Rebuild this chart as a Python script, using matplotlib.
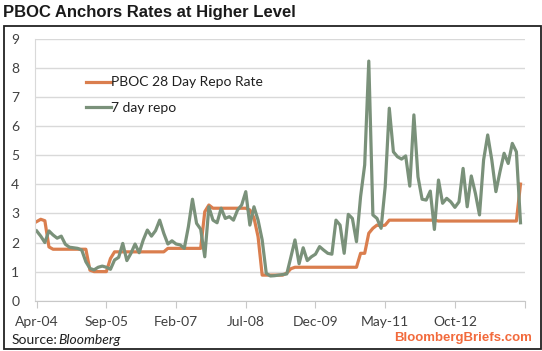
import matplotlib
matplotlib.use("Agg")
import matplotlib.pyplot as plt
from matplotlib.patches import Rectangle

# monthly observations, Apr-2004 .. Feb-2014
pboc_28d = [2.72, 2.80, 2.75, 1.85, 1.77, 1.77, 1.77, 1.77, 1.77, 1.77,
            1.77, 1.77, 1.77, 1.05, 1.00, 1.00, 1.00, 1.00, 1.45, 1.68,
            1.68, 1.68, 1.68, 1.68, 1.68, 1.68, 1.68, 1.68, 1.68, 1.68,
            1.68, 1.68, 1.80, 1.80, 1.80, 1.80, 1.80, 1.80, 1.80, 1.80,
            1.80, 3.06, 3.29, 3.18, 3.18, 3.18, 3.18, 3.18, 3.18, 3.18,
            3.18, 3.18, 3.12, 2.85, 2.20, 0.88, 0.88, 0.88, 0.88, 0.88,
            0.88, 0.95, 1.10, 1.15, 1.15, 1.15, 1.15, 1.15, 1.15, 1.15,
            1.15, 1.15, 1.15, 1.15, 1.15, 1.15, 1.15, 1.15, 1.15, 1.63,
            1.63, 2.32, 2.49, 2.60, 2.57, 2.60, 2.77, 2.77, 2.77, 2.77,
            2.77, 2.77, 2.77, 2.77, 2.77, 2.77, 2.77, 2.77, 2.74, 2.74,
            2.74, 2.74, 2.74, 2.74, 2.74, 2.74, 2.74, 2.74, 2.74, 2.74,
            2.74, 2.74, 2.74, 2.74, 2.74, 2.74, 2.74, 2.74, 4.01]

repo_7d = [2.40, 2.22, 2.00, 2.40, 2.26, 2.15, 2.22, 1.94, 1.84, 1.82,
           1.80, 1.74, 1.34, 1.11, 1.06, 1.15, 1.19, 1.15, 1.08, 1.40,
           1.49, 1.97, 1.38, 1.63, 1.95, 1.65, 2.09, 2.43, 2.22, 2.41,
           2.77, 2.32, 1.95, 2.06, 1.95, 1.92, 1.80, 2.54, 3.49, 2.66,
           2.46, 1.51, 3.23, 2.77, 2.68, 3.18, 2.83, 2.89, 2.77, 3.12,
           3.29, 3.75, 2.60, 3.23, 2.77, 2.09, 0.94, 0.85, 0.86, 0.88,
           0.90, 0.92, 1.50, 2.09, 1.27, 1.82, 1.38, 1.51, 1.60, 1.86,
           1.74, 1.63, 1.60, 2.77, 2.60, 1.63, 2.97, 2.83, 2.03, 3.58,
           4.67, 8.24, 2.95, 2.83, 2.49, 3.92, 6.62, 5.12, 4.95, 4.87,
           4.98, 3.94, 6.39, 4.26, 3.49, 3.46, 3.77, 2.45, 4.15, 3.35,
           3.52, 3.40, 3.21, 3.40, 4.55, 3.23, 4.29, 3.69, 2.95, 4.84,
           5.70, 4.84, 3.75, 4.44, 5.07, 4.72, 5.41, 5.12, 2.68]

tick_months = [0, 17, 34, 51, 68, 85, 102, 119]
tick_labels = ["Apr-04", "Sep-05", "Feb-07", "Jul-08", "Dec-09", "May-11", "Oct-12", ""]

plt.rcParams["font.family"] = ["Lato", "DejaVu Sans"]

fig = plt.figure(figsize=(5.42, 3.51), dpi=100)
W, H = 542, 351
ax = fig.add_axes([34.6 / W, (H - 300.7) / H, 490 / W, 261.7 / H])

months = list(range(len(repo_7d)))
ax.plot(months, pboc_28d, color="#DA7E4E", lw=2.3, label="PBOC 28 Day Repo Rate",
        solid_joinstyle="round")
ax.plot(months, repo_7d, color="#7A917A", lw=2.3, label="7 day repo",
        solid_joinstyle="round")

ax.set_xlim(-0.5, 119)
ax.set_ylim(0, 9)
ax.set_yticks(range(0, 10))
ax.set_xticks(tick_months, tick_labels)
ax.grid(True, axis="y", color="#D9D9D9", lw=1)
ax.set_axisbelow(True)
for s in ["top", "right"]:
    ax.spines[s].set_visible(False)
ax.spines["left"].set_color("#D9D9D9")
ax.spines["bottom"].set_color("#C8C8C8")
ax.tick_params(axis="y", length=0, pad=11, labelsize=10, labelcolor="#404040")
ax.tick_params(axis="x", length=5, color="#C8C8C8", pad=6, labelsize=10,
               labelcolor="#404040")

ax.legend(loc="upper left", bbox_to_anchor=(0.08, 0.905), frameon=False,
          fontsize=10, handlelength=1.8, handletextpad=0.0, labelspacing=1.0,
          labelcolor="#202020")

fig.text(3 / W, 1 - 12 / H, "PBOC Anchors Rates at Higher Level", fontsize=12,
         fontweight="bold", color="#1A1A1A", va="center", ha="left",
         family=["Liberation Sans", "DejaVu Sans"])
fig.text(12 / W, 1 - 340 / H, "Source:", fontsize=10, color="#202020",
         va="center", ha="left")
fig.text(58 / W, 1 - 340 / H, "Bloomberg", fontsize=10, color="#202020",
         style="italic", va="center", ha="left")
fig.text(532 / W, 1 - 338 / H, "BloombergBriefs.com", fontsize=9.5,
         color="#F26A3C", fontweight="bold", va="center", ha="right",
         family=["Liberation Sans", "DejaVu Sans"])

fig.add_artist(Rectangle((3.5 / W, 1 - 348.5 / H), 537 / W, 322.5 / H,
                         transform=fig.transFigure, fill=False,
                         edgecolor="#222222", lw=1.3))

fig.savefig("out.png", dpi=100)
